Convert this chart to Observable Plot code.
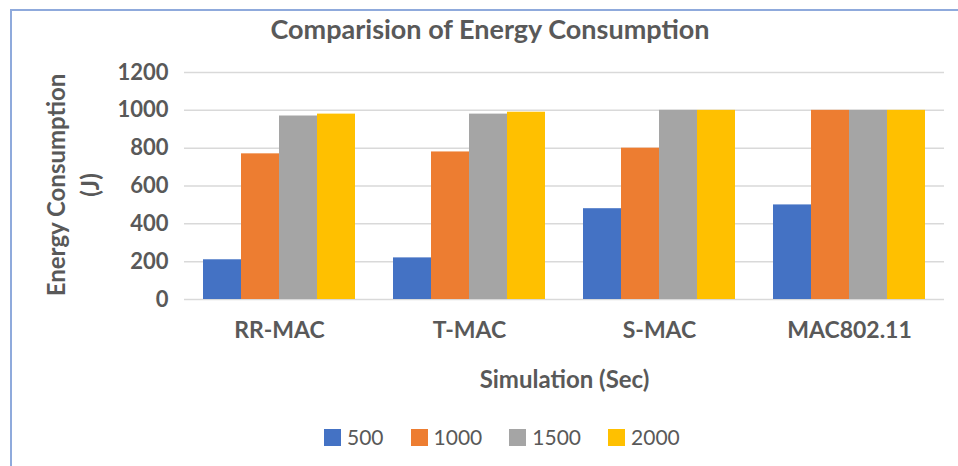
<!DOCTYPE html>
<html>
<head>
<meta charset="utf-8">
<script src="https://cdn.jsdelivr.net/npm/d3@7"></script>
<script src="https://cdn.jsdelivr.net/npm/@observablehq/plot@0.6"></script>
<style>
  html, body { margin: 0; padding: 0; background: #fff; }
  #wrap { position: relative; width: 958px; height: 466px; overflow: hidden; font-family: Lato, sans-serif; color: #595959; }
  #chart { position: absolute; left: 0; top: 0; }
  #chart svg text { font-weight: bold; fill: #595959; }
  #chart svg g[aria-label="fx-axis label"] text { font-size: 24px; }
  .bt { position: absolute; left: 10px; top: 9px; width: 948px; height: 2px; background: #8faadc; }
  .bl { position: absolute; left: 10px; top: 9px; width: 2px; height: 457px; background: #8faadc; }
  #title { position: absolute; left: 0px; width: 980px; top: 14px; text-align: center; font-weight: bold; font-size: 27px; line-height: 30px; }
  .ylab { position: absolute; top: 185px; width: 300px; height: 30px; line-height: 30px; margin-left: -150px; margin-top: -15px; transform: rotate(-90deg); text-align: center; font-weight: bold; font-size: 24px; white-space: nowrap; }
  #legend { position: absolute; left: 324px; top: 426px; display: flex; align-items: center; font-size: 21px; line-height: 22px; }
  #legend .item { display: flex; align-items: center; margin-right: 27px; }
  #legend .sw { width: 17px; height: 17px; margin-right: 6px; }
</style>
</head>
<body>
<div id="wrap">
  <div id="chart"></div>
  <div class="bt"></div>
  <div class="bl"></div>
  <div id="title">Comparision of Energy Consumption</div>
  <div class="ylab" style="left:56px">Energy Consumption</div>
  <div class="ylab" style="left:90px">(J)</div>
  <div id="legend"></div>
</div>
<script>
const categories = ["RR-MAC", "T-MAC", "S-MAC", "MAC802.11"];
const series = ["500", "1000", "1500", "2000"];
const values500 = [210, 220, 480, 500];
const values1000 = [770, 780, 800, 1000];
const values1500 = [970, 980, 1000, 1000];
const values2000 = [980, 990, 1000, 1000];
const yTicks = [0, 200, 400, 600, 800, 1000, 1200];
const colors = ["#4472c4", "#ed7d31", "#a5a5a5", "#ffc000"];
const xTitle = "Simulation (Sec)";

const seriesValues = [values500, values1000, values1500, values2000];
const data = [];
categories.forEach((c, i) => {
  series.forEach((s, j) => {
    data.push({cat: c, series: s, value: seriesValues[j][i]});
  });
});

const chart = Plot.plot({
  width: 958,
  height: 466,
  marginTop: 72,
  marginBottom: 167,
  marginLeft: 183,
  marginRight: 14,
  style: {fontFamily: "Lato, sans-serif", color: "#595959", background: "transparent", overflow: "visible"},
  fx: {domain: categories, padding: 0, label: null},
  x: {domain: series, paddingInner: 0, paddingOuter: 0.5, axis: null},
  y: {domain: [0, 1200], label: null},
  color: {domain: series, range: colors},
  marks: [
    Plot.gridY(yTicks, {stroke: "#d9d9d9", strokeOpacity: 1, strokeWidth: 1.5}),
    Plot.barY(data, {fx: "cat", x: "series", y: "value", fill: "series"}),
    Plot.axisY(yTicks, {tickSize: 0, tickPadding: 16, fontSize: 22, label: null, tickFormat: d => String(d)}),
    Plot.axisFx({anchor: "bottom", tickSize: 0, tickPadding: 22, fontSize: 23, label: xTitle, labelAnchor: "center", labelOffset: 88})
  ]
});
document.getElementById("chart").appendChild(chart);

const legend = document.getElementById("legend");
series.forEach((s, i) => {
  const item = document.createElement("div");
  item.className = "item";
  const sw = document.createElement("div");
  sw.className = "sw";
  sw.style.background = colors[i];
  const lab = document.createElement("span");
  lab.textContent = s;
  item.appendChild(sw);
  item.appendChild(lab);
  legend.appendChild(item);
});
</script>
</body>
</html>
